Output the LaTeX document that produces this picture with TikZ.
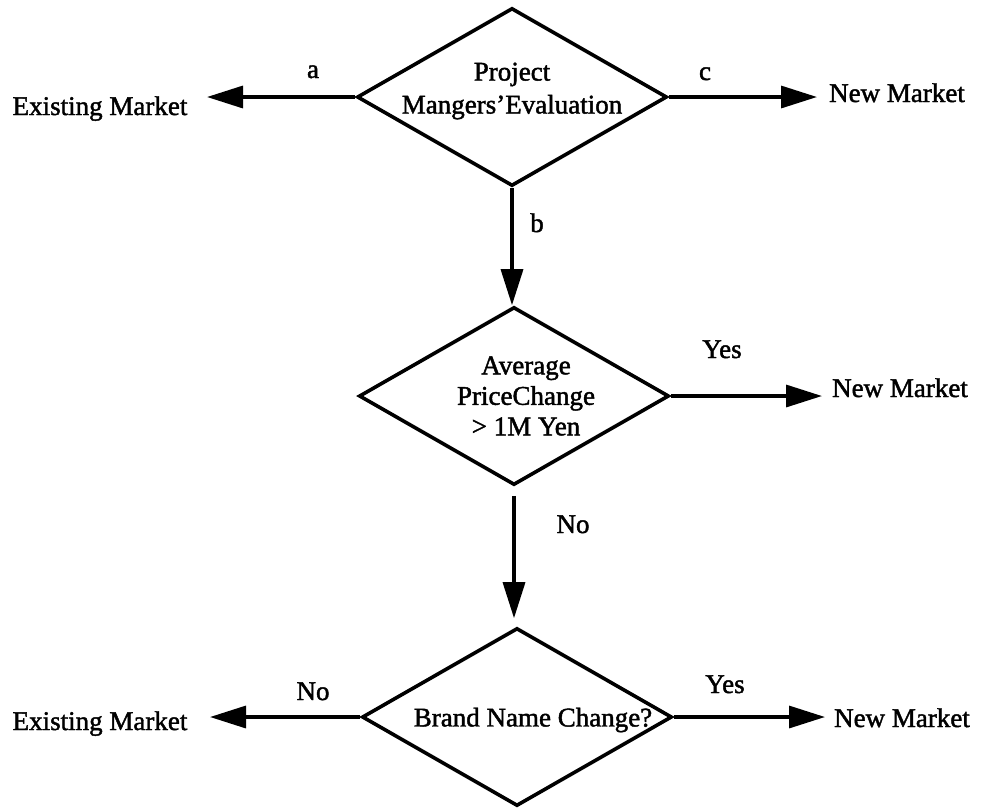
\documentclass[tikz,border=0pt]{standalone}
\usepackage{fontspec}
\setmainfont{Liberation Serif}[RawFeature={embolden=1.6}]
\usetikzlibrary{shapes.geometric,arrows.meta}
\begin{document}
\begin{tikzpicture}[x=1pt,y=-1pt,
  decision/.style={diamond, draw, line width=3.6pt, inner sep=0pt,
    minimum width=310pt, minimum height=178pt},
  txt/.style={font=\fontsize{27}{33}\selectfont, inner sep=0pt},
  lbl/.style={txt, anchor=base},
  flow/.style={line width=3.3pt, -{Triangle[length=36pt,width=22pt]}}]
\useasboundingbox (0,0) rectangle (982,807);

% decision diamonds
\node[decision] (d1) at (512,97) {};
\node[decision] (d2) at (514,396) {};
\node[decision] (d3) at (517,717) {};

% texts inside the diamonds
\node[txt, align=center] (t1) at (512,91) {Project\\Mangers'Evaluation};
\node[txt, align=center, font=\fontsize{27}{30.5}\selectfont] (t2) at (526,396) {Average\\PriceChange\\> 1M Yen};
\node[txt] (t3) at (533,720) {Brand Name Change?};

% outcomes
\node[lbl] (em1) at (100,115) {Existing Market};
\node[lbl] (nm1) at (897,102) {New Market};
\node[lbl] (nm2) at (900,397) {New Market};
\node[lbl] (em2) at (100,730) {Existing Market};
\node[lbl] (nm3) at (902,727) {New Market};

% arrow ends
\coordinate (a1) at (207,100);
\coordinate (c1) at (817,97);
\coordinate (y2) at (822,392);
\coordinate (n3) at (210,717);
\coordinate (y3) at (825,717);

% connectors
\draw[flow] (d1.west) -- (a1 |- d1.west);
\draw[flow] (d1.east) -- (c1 |- d1.east);
\draw[flow] (d1.south) -- (d1.south |- d2.north);
\draw[flow] (d2.east) -- (y2 |- d2.east);
\draw[flow, shorten <=9pt, shorten >=8pt] (d2.south) -- (d2.south |- d3.north);
\draw[flow] (d3.west) -- (n3 |- d3.west);
\draw[flow] (d3.east) -- (y3 |- d3.east);

% branch labels
\node[lbl] (la) at (313,78) {a};
\node[lbl] (lc) at (705,80) {c};
\node[lbl] (lb) at (537,232) {b};
\node[lbl] (ly2) at (722,358) {Yes};
\node[lbl] (ln2) at (573,533) {No};
\node[lbl] (ln3) at (313,700) {No};
\node[lbl] (ly3) at (725,693) {Yes};
\end{tikzpicture}
\end{document}
